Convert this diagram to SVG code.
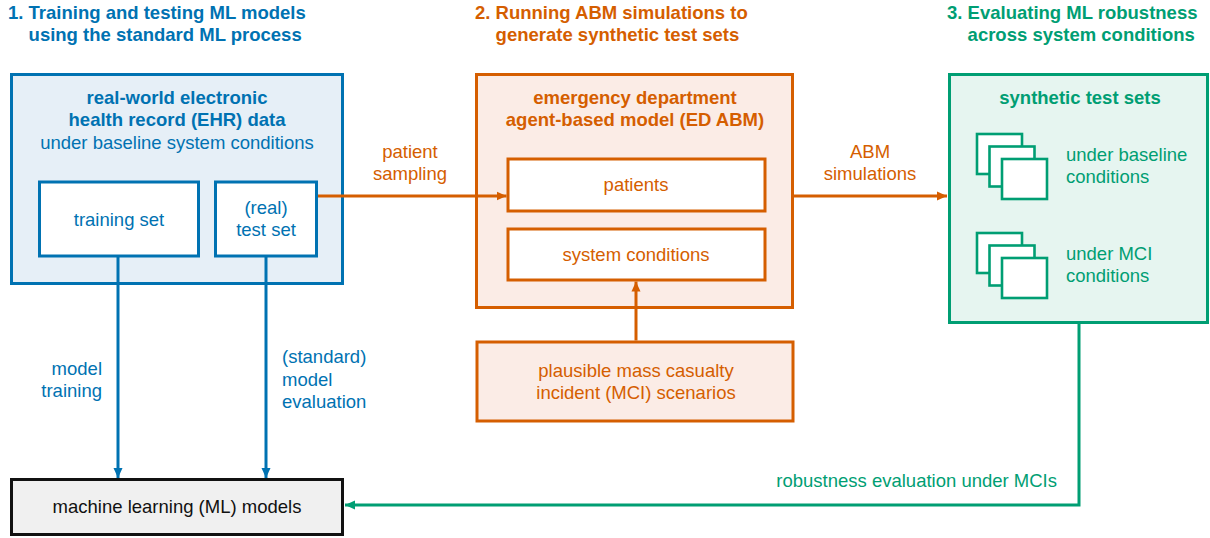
<svg xmlns="http://www.w3.org/2000/svg" width="1210" height="538" viewBox="0 0 1210 538">
  <style>
    text { font-family: "Liberation Sans", Arial, Helvetica, sans-serif; font-size: 18.5px; }
    .b { font-weight: bold; }
    .mid { text-anchor: middle; }
    .end { text-anchor: end; }
    .blue { fill: #0072B2; }
    .orange { fill: #D55E00; }
    .green { fill: #009E73; }
    .dark { fill: #111111; }
    .box { stroke-width: 3; }
    .sb { stroke: #0072B2; }
    .so { stroke: #D55E00; }
    .sg { stroke: #009E73; }
    .conn { fill: none; stroke-width: 3; }
    .sheet { fill: #ffffff; stroke: #009E73; stroke-width: 2.6; }
  </style>
  <defs>
    <marker id="arrow-blue" viewBox="0 0 10 10" refX="10" refY="5" markerWidth="10" markerHeight="10" markerUnits="userSpaceOnUse" orient="auto">
      <path d="M0,0.5 L10,5 L0,9.5 z" fill="#0072B2"/>
    </marker>
    <marker id="arrow-orange" viewBox="0 0 10 10" refX="10" refY="5" markerWidth="10" markerHeight="10" markerUnits="userSpaceOnUse" orient="auto">
      <path d="M0,0.5 L10,5 L0,9.5 z" fill="#D55E00"/>
    </marker>
    <marker id="arrow-green" viewBox="0 0 10 10" refX="10" refY="5" markerWidth="10" markerHeight="10" markerUnits="userSpaceOnUse" orient="auto">
      <path d="M0,0.5 L10,5 L0,9.5 z" fill="#009E73"/>
    </marker>
    <g id="stack">
      <rect class="sheet" x="0" y="0" width="45" height="40"/>
      <rect class="sheet" x="12.5" y="12.5" width="45" height="40"/>
      <rect class="sheet" x="25" y="25" width="45" height="40"/>
    </g>
  </defs>

  <rect x="0" y="0" width="1210" height="538" fill="#ffffff"/>

  <!-- section headings -->
  <g id="heading-1" class="b blue">
    <text x="8" y="19">1. Training and testing ML models</text>
    <text x="28.6" y="41">using the standard ML process</text>
  </g>
  <g id="heading-2" class="b orange">
    <text x="475" y="19">2. Running ABM simulations to</text>
    <text x="495.6" y="41">generate synthetic test sets</text>
  </g>
  <g id="heading-3" class="b green">
    <text x="947" y="19">3. Evaluating ML robustness</text>
    <text x="967.6" y="41">across system conditions</text>
  </g>

  <!-- EHR data -->
  <g id="ehr-data">
    <rect class="box sb" x="11.5" y="74.5" width="331" height="209" fill="#e6eff7"/>
    <text class="b blue mid" x="177" y="104">real-world electronic</text>
    <text class="b blue mid" x="177" y="126">health record (EHR) data</text>
    <text class="blue mid" x="177" y="149">under baseline system conditions</text>
  </g>
  <g id="training-set">
    <rect class="box sb" x="39.5" y="182" width="159" height="74" fill="#ffffff"/>
    <text class="blue mid" x="119" y="226">training set</text>
  </g>
  <g id="test-set">
    <rect class="box sb" x="215.5" y="182" width="101" height="74" fill="#ffffff"/>
    <text class="blue mid" x="266" y="214">(real)</text>
    <text class="blue mid" x="266" y="236">test set</text>
  </g>

  <!-- ED ABM -->
  <g id="ed-abm">
    <rect class="box so" x="476.5" y="74.5" width="316" height="233" fill="#fbece6"/>
    <text class="b orange mid" x="635" y="104">emergency department</text>
    <text class="b orange mid" x="635" y="126">agent-based model (ED ABM)</text>
  </g>
  <g id="patients">
    <rect class="box so" x="508" y="159" width="257" height="52" fill="#ffffff"/>
    <text class="orange mid" x="636" y="191">patients</text>
  </g>
  <g id="system-conditions">
    <rect class="box so" x="508" y="229" width="257" height="51" fill="#ffffff"/>
    <text class="orange mid" x="636" y="261">system conditions</text>
  </g>
  <g id="mci-scenarios">
    <rect class="box so" x="477" y="342" width="316" height="79" fill="#fbece6"/>
    <text class="orange mid" x="636" y="377">plausible mass casualty</text>
    <text class="orange mid" x="636" y="399">incident (MCI) scenarios</text>
  </g>

  <!-- synthetic test sets -->
  <g id="synthetic-test-sets">
    <rect class="box sg" x="949.5" y="74.5" width="258" height="248" fill="#e6f5f0"/>
    <text class="b green mid" x="1080" y="104">synthetic test sets</text>
  </g>
  <g id="baseline-sets">
    <use href="#stack" x="977" y="134"/>
    <text class="green" x="1066" y="161">under baseline</text>
    <text class="green" x="1066" y="183">conditions</text>
  </g>
  <g id="mci-sets">
    <use href="#stack" x="977" y="233"/>
    <text class="green" x="1066" y="260">under MCI</text>
    <text class="green" x="1066" y="282">conditions</text>
  </g>

  <!-- ML models -->
  <g id="ml-models">
    <rect class="box" x="11.5" y="479.5" width="331" height="55" fill="#f0f0f0" stroke="#111111"/>
    <text class="dark mid" x="177" y="513">machine learning (ML) models</text>
  </g>

  <!-- connectors, drawn over the boxes they cross -->
  <g id="connectors">
    <line class="conn sb" x1="118" y1="257" x2="118" y2="478" marker-end="url(#arrow-blue)"/>
    <line class="conn sb" x1="266" y1="257" x2="266" y2="478" marker-end="url(#arrow-blue)"/>
    <line class="conn so" x1="318" y1="196" x2="506.5" y2="196" marker-end="url(#arrow-orange)"/>
    <line class="conn so" x1="794" y1="196" x2="947" y2="196" marker-end="url(#arrow-orange)"/>
    <line class="conn so" x1="636" y1="340.5" x2="636" y2="281.5" marker-end="url(#arrow-orange)"/>
    <path class="conn sg" d="M1079,323 V505 H345" marker-end="url(#arrow-green)"/>
    <g id="connector-labels">
      <text class="blue end" x="102" y="375">model</text>
      <text class="blue end" x="102" y="397">training</text>
      <text class="blue" x="282" y="363">(standard)</text>
      <text class="blue" x="282" y="386">model</text>
      <text class="blue" x="282" y="408">evaluation</text>
      <text class="orange mid" x="410" y="158">patient</text>
      <text class="orange mid" x="410" y="180">sampling</text>
      <text class="orange mid" x="870" y="158">ABM</text>
      <text class="orange mid" x="870" y="180">simulations</text>
      <text class="green end" x="1057" y="487">robustness evaluation under MCIs</text>
    </g>
  </g>
</svg>
